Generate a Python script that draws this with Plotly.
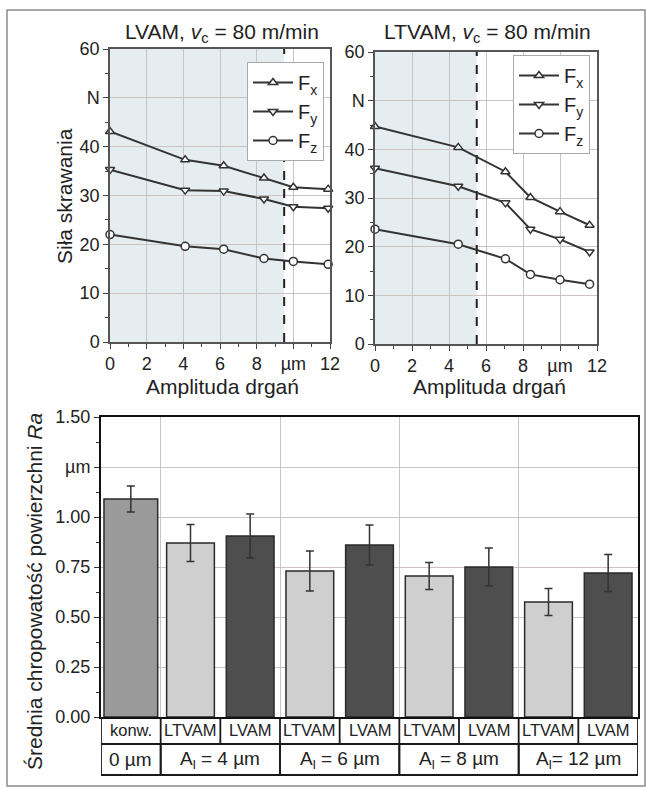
import plotly.graph_objects as go

# ---------------- data ----------------
amp_lvam = [0, 4.1, 6.2, 8.4, 10.0, 11.9]
fx_lvam = [43.1, 37.3, 36.1, 33.6, 31.7, 31.3]
fy_lvam = [35.3, 31.1, 30.9, 29.3, 27.7, 27.4]
fz_lvam = [22.0, 19.6, 19.0, 17.1, 16.5, 15.9]

amp_ltvam = [0, 4.5, 7.05, 8.4, 10.0, 11.6]
fx_ltvam = [44.7, 40.4, 35.4, 30.1, 27.2, 24.4]
fy_ltvam = [36.1, 32.4, 29.0, 23.6, 21.5, 18.9]
fz_ltvam = [23.6, 20.5, 17.5, 14.3, 13.2, 12.3]

lvam_boundary = 9.5
ltvam_boundary = 5.5

force_yticks = [0, 10, 20, 30, 40, 50, 60]
force_yticktext = ["0", "10", "20", "30", "40", "N", "60"]
amp_xticks = [0, 2, 4, 6, 8, 10, 12]
amp_xticktext = ["0", "2", "4", "6", "8", "µm", "12"]

bar_labels = ["konw.", "LTVAM", "LVAM", "LTVAM", "LVAM", "LTVAM", "LVAM", "LTVAM", "LVAM"]
bar_kind = ["konw", "LTVAM", "LVAM", "LTVAM", "LVAM", "LTVAM", "LVAM", "LTVAM", "LVAM"]
ra_values = [1.09, 0.87, 0.905, 0.73, 0.86, 0.705, 0.75, 0.575, 0.72]
ra_errors = [0.065, 0.093, 0.11, 0.10, 0.10, 0.068, 0.095, 0.068, 0.092]
group_labels = ["0 µm", "A<sub>l</sub> = 4 µm", "A<sub>l</sub> = 6 µm", "A<sub>l</sub> = 8 µm", "A<sub>l</sub>= 12 µm"]
group_spans = [(0, 0), (1, 2), (3, 4), (5, 6), (7, 8)]

ra_yticks = [0, 0.25, 0.5, 0.75, 1.0, 1.25, 1.5]
ra_yticktext = ["0.00", "0.25", "0.50", "0.75", "1.00", "µm", "1.50"]

# ---------------- style ----------------
W, H = 646, 787
FONT = "Liberation Sans, Arial, sans-serif"
TXT = "#222222"
GRID = "#cdc4c2"
SHADE = "#e5edf0"
LINE = "#333333"
kind_color = {"konw": "#9a9a9a", "LTVAM": "#cfcfcf", "LVAM": "#4e4e4e"}
bar_widths = [0.9] + [0.8] * 8


def px(v):
    return v / W


def py(v):
    return 1 - v / H


fig = go.Figure()

series = [("F<sub>x</sub>", "triangle-up"), ("F<sub>y</sub>", "triangle-down"), ("F<sub>z</sub>", "circle")]

for (name, sym), ys in zip(series, [fx_lvam, fy_lvam, fz_lvam]):
    fig.add_trace(go.Scatter(x=amp_lvam, y=ys, mode="lines+markers", name=name,
                             line=dict(color=LINE, width=2),
                             marker=dict(symbol=sym, size=8, color="white", line=dict(color=LINE, width=1.5)),
                             cliponaxis=False, xaxis="x", yaxis="y", legend="legend"))
for (name, sym), ys in zip(series, [fx_ltvam, fy_ltvam, fz_ltvam]):
    fig.add_trace(go.Scatter(x=amp_ltvam, y=ys, mode="lines+markers", name=name,
                             line=dict(color=LINE, width=2),
                             marker=dict(symbol=sym, size=8, color="white", line=dict(color=LINE, width=1.5)),
                             cliponaxis=False, xaxis="x2", yaxis="y2", legend="legend2"))

cats = list(range(len(ra_values)))
fig.add_trace(go.Bar(x=cats, y=ra_values, width=bar_widths,
                     marker=dict(color=[kind_color[k] for k in bar_kind], line=dict(color="#2a2a2a", width=1.5)),
                     error_y=dict(type="data", array=ra_errors, visible=True, color="#333333", thickness=1.5, width=4),
                     showlegend=False, xaxis="x3", yaxis="y3"))

tickfont = dict(family=FONT, size=18, color=TXT)

def force_axes(xdom, ydom):
    xa = dict(domain=xdom, range=[0, 12], tickmode="array", tickvals=amp_xticks, ticktext=amp_xticktext,
              showgrid=True, gridcolor=GRID, gridwidth=1, zeroline=False, automargin=False,
              showline=True, linecolor="#555555", linewidth=1.5, mirror=True,
              ticks="outside", ticklen=5, tickcolor="#444", tickfont=tickfont,
              minor=dict(tickvals=[1, 3, 5, 7, 9, 11], ticks="outside", ticklen=3, tickcolor="#444", showgrid=False))
    ya = dict(domain=ydom, range=[0, 60], tickmode="array", tickvals=force_yticks, ticktext=force_yticktext,
              showgrid=True, gridcolor=GRID, gridwidth=1, zeroline=False, automargin=False,
              showline=True, linecolor="#555555", linewidth=1.5, mirror=True,
              ticks="outside", ticklen=5, tickcolor="#444", tickfont=tickfont,
              minor=dict(tickvals=[5, 15, 25, 35, 45, 55], ticks="outside", ticklen=3, tickcolor="#444", showgrid=False))
    return xa, ya

xa1, ya1 = force_axes([px(110), px(330)], [py(342), py(49)])
xa2, ya2 = force_axes([px(375), px(597)], [py(344), py(52)])
ya1["anchor"] = "x"; xa1["anchor"] = "y"
ya2["anchor"] = "x2"; xa2["anchor"] = "y2"

xa3 = dict(domain=[px(101), px(638)], range=[-0.5, 8.5], anchor="y3", tickmode="array",
           tickvals=[0.5, 2.5, 4.5, 6.5], showticklabels=False, ticks="", automargin=False,
           showgrid=True, gridcolor=GRID, gridwidth=1, zeroline=False,
           showline=True, linecolor="#111111", linewidth=2, mirror=True)
ya3 = dict(domain=[py(717), py(417)], range=[0, 1.5], anchor="x3", tickmode="array",
           tickvals=ra_yticks, ticktext=ra_yticktext, automargin=False,
           showgrid=True, gridcolor=GRID, gridwidth=1, zeroline=False,
           showline=True, linecolor="#111111", linewidth=2, mirror=True,
           ticks="outside", ticklen=5, tickcolor="#333", tickfont=tickfont,
           minor=dict(tickvals=[0.125, 0.375, 0.625, 0.875, 1.125, 1.375], ticks="outside", ticklen=3,
                      tickcolor="#333", showgrid=False))

shapes = []
# shaded regions + dashed boundary
shapes.append(dict(type="rect", xref="x", yref="y", x0=0, x1=lvam_boundary, y0=0, y1=60,
                   fillcolor=SHADE, line=dict(width=0), layer="below"))
shapes.append(dict(type="rect", xref="x2", yref="y2", x0=0, x1=ltvam_boundary, y0=0, y1=60,
                   fillcolor=SHADE, line=dict(width=0), layer="below"))
shapes.append(dict(type="line", xref="x", yref="y", x0=lvam_boundary, x1=lvam_boundary, y0=0, y1=60,
                   line=dict(color="#222", width=2, dash="dash"), layer="between"))
shapes.append(dict(type="line", xref="x2", yref="y2", x0=ltvam_boundary, x1=ltvam_boundary, y0=0, y1=60,
                   line=dict(color="#222", width=2, dash="dash"), layer="between"))

# table under bar chart
row_top, row_mid, row_bot = py(717), py(744), py(775)
tline = dict(color="#1a1a1a", width=1.8)
shapes.append(dict(type="line", xref="x3", yref="paper", x0=-0.5, x1=8.5, y0=row_mid, y1=row_mid, line=tline))
shapes.append(dict(type="line", xref="x3", yref="paper", x0=-0.5, x1=8.5, y0=row_bot, y1=row_bot, line=tline))
for i in range(len(cats) + 1):
    xb = i - 0.5
    shapes.append(dict(type="line", xref="x3", yref="paper", x0=xb, x1=xb, y0=row_top, y1=row_mid, line=tline))
for (a, b) in group_spans:
    for xb in (a - 0.5, b + 0.5):
        shapes.append(dict(type="line", xref="x3", yref="paper", x0=xb, x1=xb, y0=row_mid, y1=row_bot, line=tline))

# outer frame
shapes.append(dict(type="rect", xref="paper", yref="paper", x0=px(7), x1=px(645), y0=py(786), y1=py(10),
                   line=dict(color="#8a8a8a", width=1.5), fillcolor="rgba(0,0,0,0)"))

annotations = []
for i, lab in enumerate(bar_labels):
    annotations.append(dict(x=i, y=(row_top + row_mid) / 2, xref="x3", yref="paper", text=lab, showarrow=False,
                            font=dict(family=FONT, size=16.5, color=TXT), xanchor="center", yanchor="middle"))
for lab, (a, b) in zip(group_labels, group_spans):
    annotations.append(dict(x=(a + b) / 2, y=(row_mid + row_bot) / 2, xref="x3", yref="paper", text=lab,
                            showarrow=False, font=dict(family=FONT, size=19, color=TXT),
                            xanchor="center", yanchor="middle"))

title_font = dict(family=FONT, size=21, color=TXT)

def label(xp, yp, text, angle=0):
    return dict(x=px(xp), y=py(yp), xref="paper", yref="paper", showarrow=False, text=text,
                font=title_font, xanchor="center", yanchor="middle", textangle=angle)

annotations.append(label(222, 33, "LVAM, <i>v</i><sub>c</sub> = 80 m/min"))
annotations.append(label(488, 33, "LTVAM, <i>v</i><sub>c</sub> = 80 m/min"))
annotations.append(label(222, 386, "Amplituda drgań"))
annotations.append(label(489, 386, "Amplituda drgań"))
annotations.append(label(64, 196, "Siła skrawania", -90))
annotations.append(label(34, 592, "Średnia chropowatość powierzchni <i>Ra</i>", -90))

legend_common = dict(bgcolor="white", bordercolor="#aaaaaa", borderwidth=1,
                     font=dict(family=FONT, size=20, color=TXT), itemwidth=40,
                     xanchor="left", yanchor="top", tracegroupgap=0, itemclick=False)

fig.update_layout(
    template="none",
    width=W, height=H, margin=dict(l=0, r=0, t=0, b=0, pad=0, autoexpand=False),
    paper_bgcolor="white", plot_bgcolor="white",
    font=dict(family=FONT, color=TXT),
    xaxis=xa1, yaxis=ya1, xaxis2=xa2, yaxis2=ya2, xaxis3=xa3, yaxis3=ya3,
    shapes=shapes, annotations=annotations,
    legend=dict(x=px(247), y=py(62), **legend_common),
    legend2=dict(x=px(513), y=py(55), **legend_common),
    bargap=0.2,
)

fig.write_html("out.html", config={"displayModeBar": False},
               post_script="document.body.style.margin='0';")
